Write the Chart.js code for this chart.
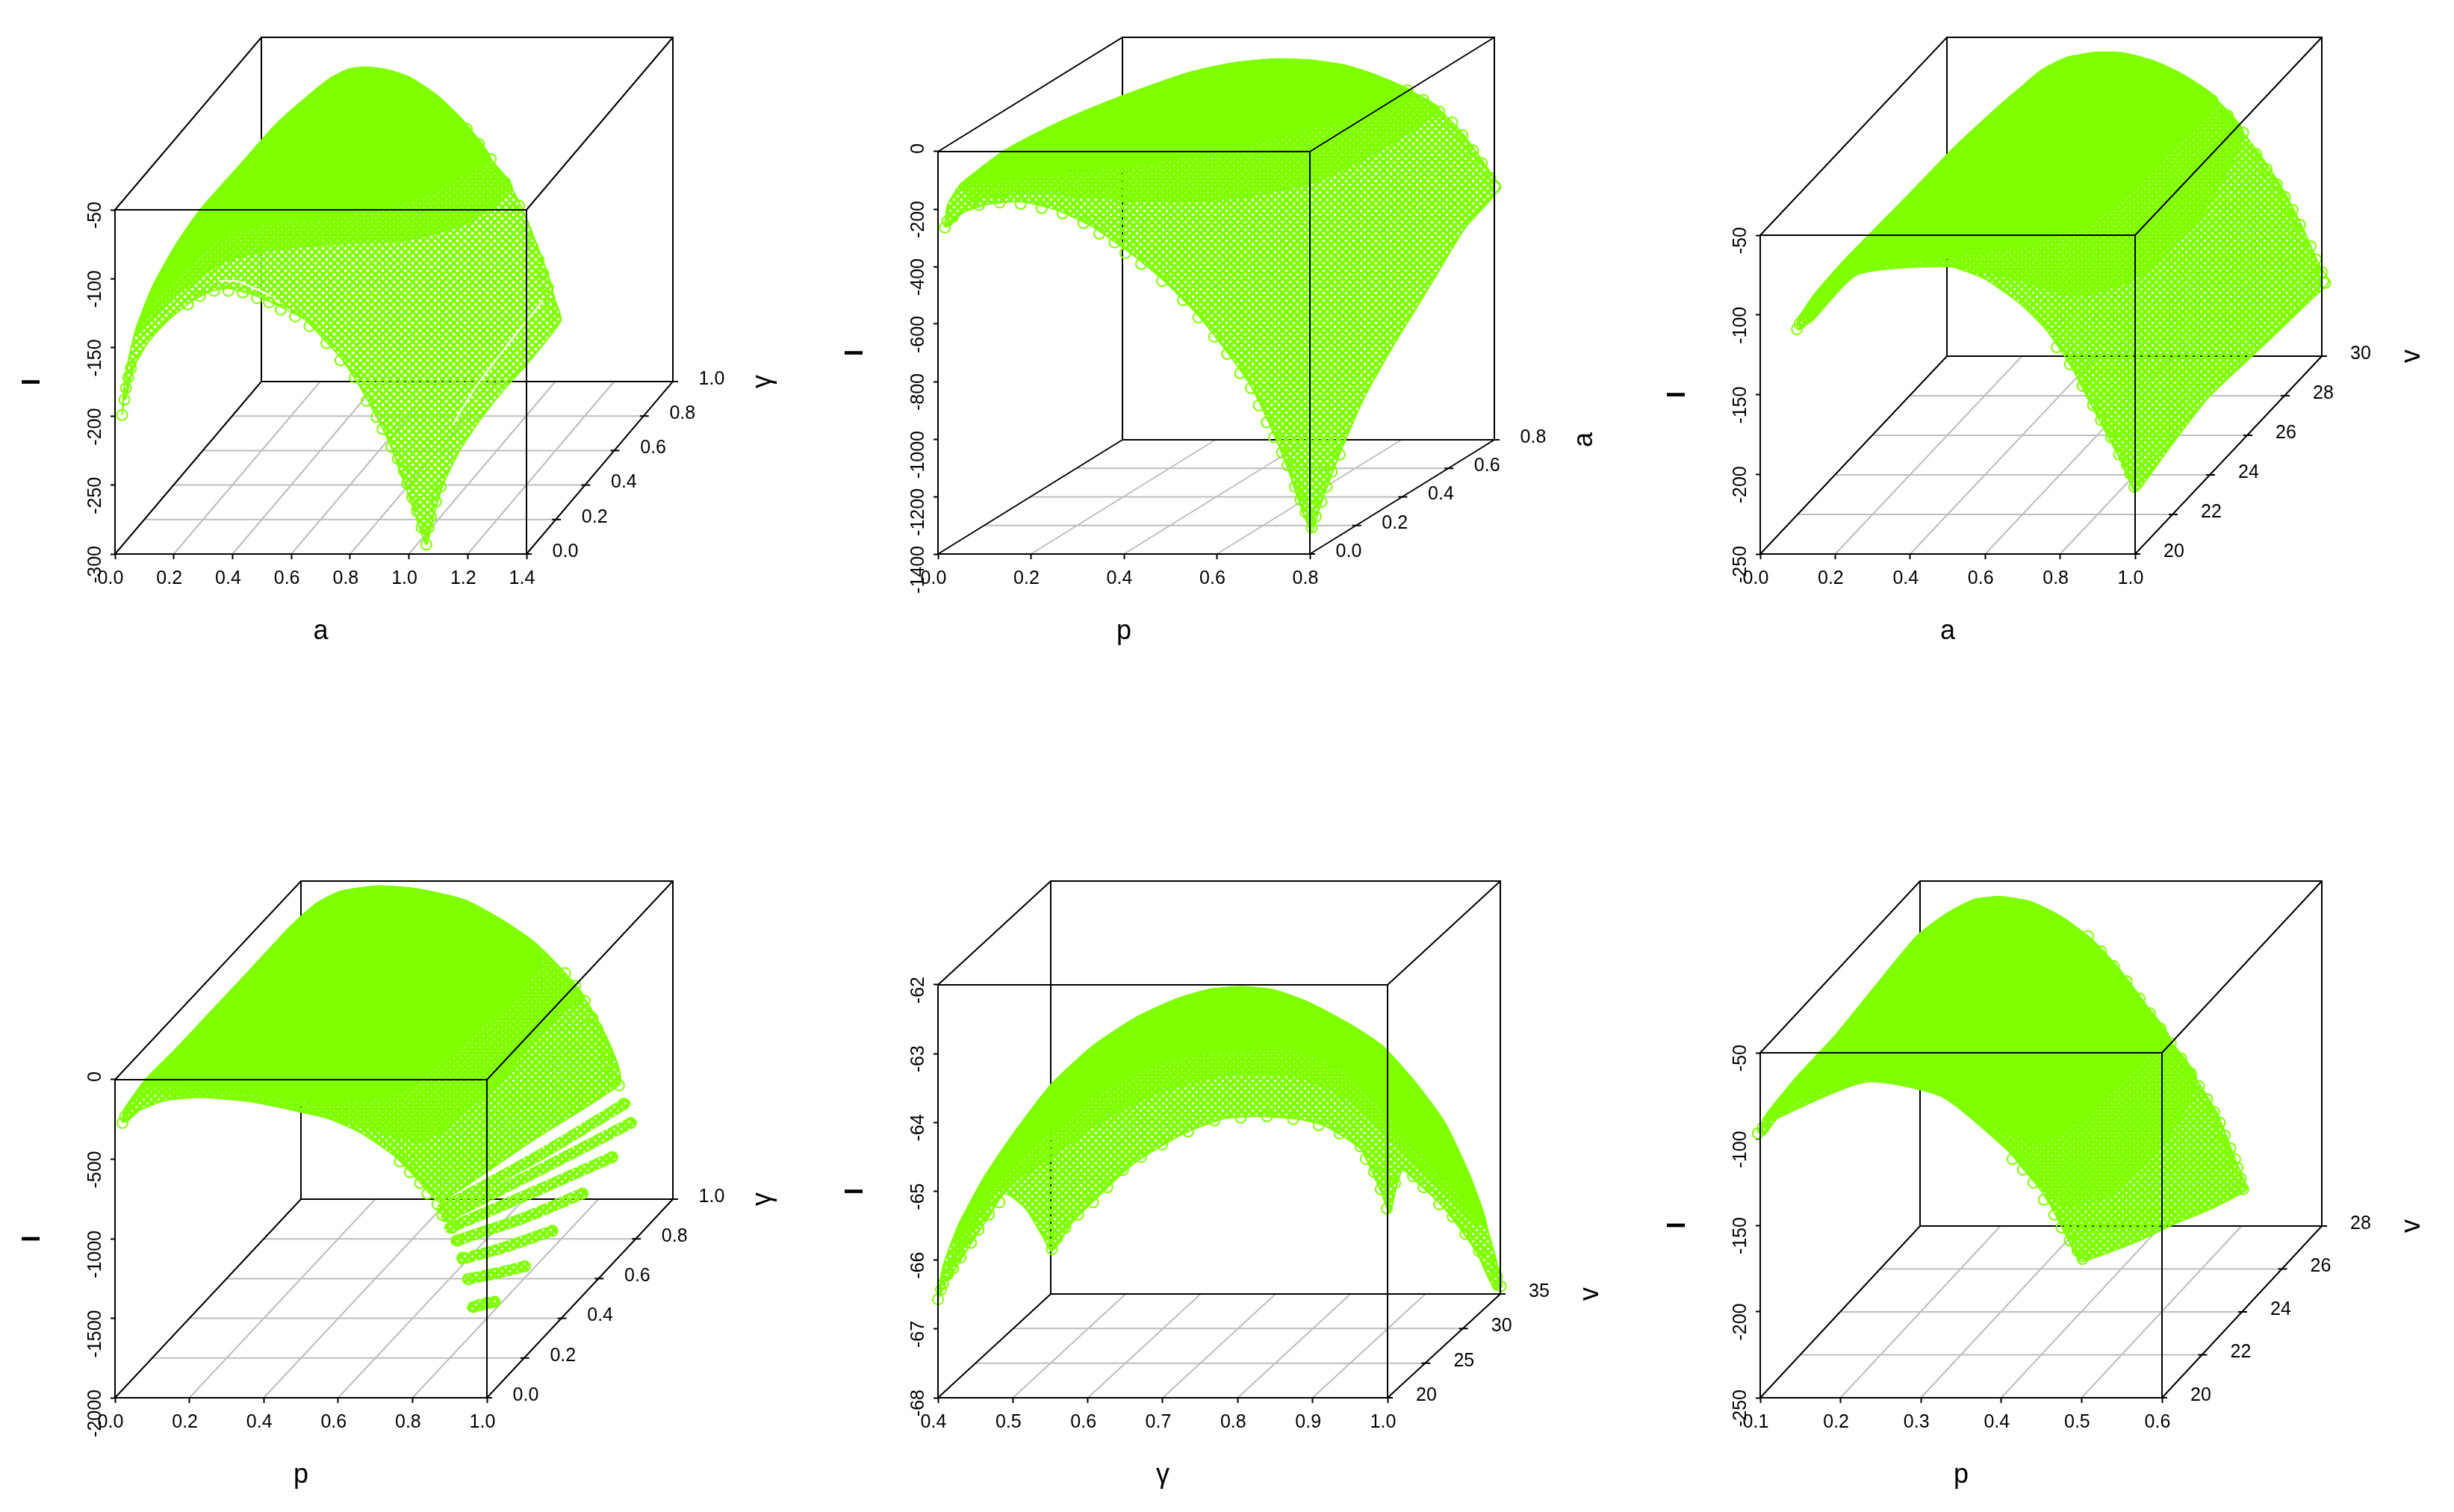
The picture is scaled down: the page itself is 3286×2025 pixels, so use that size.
<!DOCTYPE html>
<html>
<head>
<meta charset="utf-8">
<title>Profile log-likelihood surfaces</title>
<script src="https://cdn.jsdelivr.net/npm/chart.js@4/dist/chart.umd.js"></script>
<style>
html, body { margin: 0; padding: 0; background: #fff; }
#page { position: relative; width: 3286px; height: 2025px; overflow: hidden; }
canvas { position: absolute; }
</style>
</head>
<body>
<div id="page"></div>
<script>
// axis ticks, panel by panel
const p1XTicks = [0, 0.2, 0.4, 0.6, 0.8, 1.0, 1.2, 1.4];
const p1ZTicks = [-300, -250, -200, -150, -100, -50];
const p1DTicks = [0, 0.2, 0.4, 0.6, 0.8, 1.0];
const p2XTicks = [0, 0.2, 0.4, 0.6, 0.8];
const p2ZTicks = [-1400, -1200, -1000, -800, -600, -400, -200, 0];
const p2DTicks = [0, 0.2, 0.4, 0.6, 0.8];
const p3XTicks = [0, 0.2, 0.4, 0.6, 0.8, 1.0];
const p3ZTicks = [-250, -200, -150, -100, -50];
const p3DTicks = [20, 22, 24, 26, 28, 30];
const p4XTicks = [0, 0.2, 0.4, 0.6, 0.8, 1.0];
const p4ZTicks = [-2000, -1500, -1000, -500, 0];
const p4DTicks = [0, 0.2, 0.4, 0.6, 0.8, 1.0];
const p5XTicks = [0.4, 0.5, 0.6, 0.7, 0.8, 0.9, 1.0];
const p5ZTicks = [-68, -67, -66, -65, -64, -63, -62];
const p5DTicks = [20, 25, 30, 35];
const p6XTicks = [0.1, 0.2, 0.3, 0.4, 0.5, 0.6];
const p6ZTicks = [-250, -200, -150, -100, -50];
const p6DTicks = [20, 22, 24, 26, 28];

// surfaces, [projected x, l]
const p1Outline = [[.024,-199],[.034,-171.7],[.07,-137.5],[.127,-106.3],[.208,-75.2],[.289,-50.3],[.418,-19.2],[.548,12],[.646,30.6],[.727,44.6],[.792,51.8],[.848,53.4],[.921,51.8],[1.002,46.2],[1.1,32.2],[1.189,13.5],[1.278,-13],[1.351,-34.7],[1.4,-56.5],[1.44,-78.3],[1.473,-97],[1.497,-115.7],[1.518,-129.7],[1.489,-139],[1.4,-162.4],[1.327,-179.5],[1.246,-201.3],[1.173,-224.6],[1.116,-249.5],[1.083,-272.9],[1.059,-293.1],[1.019,-269.8],[.986,-249.5],[.938,-221.5],[.889,-199.7],[.832,-178],[.775,-159.3],[.71,-143.7],[.646,-129.7],[.564,-120.4],[.483,-112.6],[.386,-107],[.321,-109.5],[.256,-117.2],[.175,-131.3],[.11,-146.9],[.062,-165.5],[.037,-187.3]];
const p1SolidEdge = [[1.197,-22.3],[1.067,-37.9],[.905,-50.3],[.71,-55],[.516,-59.7],[.37,-69],[.256,-87.7],[.159,-109.5],[.065,-140.6]];
const p1DenseEdge = [[1.197,-59.7],[.986,-72.1],[.71,-75.2],[.516,-79.9],[.37,-87.7],[.224,-109.5],[.078,-140.6]];
const p1Rings = [[.024,-199],[.032,-187.9],[.037,-179.5],[.045,-171.7],[.054,-164.9],[.248,-118.8],[.289,-112.6],[.337,-108.8],[.386,-108.8],[.435,-110.1],[.483,-114.1],[.524,-117.2],[.564,-122.5],[.613,-127.5],[.662,-134.4],[.719,-146.8],[.767,-159.3],[.816,-171.7],[.856,-188.8],[.889,-200.4],[.91,-209.1],[.941,-222.2],[.962,-230.9],[.983,-239.6],[.994,-248.9],[1.011,-258.9],[1.027,-268.8],[1.043,-280.7],[1.059,-293.1],[1.067,-280.7],[1.075,-272.9],[1.092,-262],[1.108,-251.1],[1.497,-129.7],[1.481,-118.2],[1.473,-106.3],[1.457,-96.4],[1.44,-86.1],[1.421,-76.8],[1.4,-65.9],[1.375,-47.2],[1.327,-30.1],[1.278,-13],[1.238,-2.1],[1.197,8.8]];
const p1GapA = [[1.457,-115.7],[1.351,-143.7],[1.229,-177.9],[1.148,-206]];
const p1GapB = [[.354,-101.7],[.418,-101.7],[.516,-111],[.597,-123.5]];

const p2Outline = [[.015,-264],[.02,-189],[.048,-115],[.088,-63],[.144,4],[.223,72],[.313,139],[.425,210],[.538,273],[.628,306],[.718,321],[.797,318],[.875,300],[.943,265],[1.022,206],[1.078,146],[1.128,64],[1.168,-25],[1.196,-92],[1.209,-122],[1.185,-174],[1.134,-264],[1.078,-413],[1.022,-562],[.977,-681],[.92,-845],[.875,-1009],[.842,-1144],[.819,-1248],[.804,-1322],[.78,-1233],[.752,-1099],[.718,-965],[.673,-815],[.628,-711],[.56,-570],[.482,-443],[.414,-353],[.335,-264],[.257,-204],[.178,-174],[.11,-182],[.054,-212],[.026,-256]];
const p2SolidEdge = [[.977,154],[.797,79],[.65,19],[.482,-33],[.335,-63],[.2,-85],[.088,-107]];
const p2DenseEdge = [[.965,19],[.819,-100],[.65,-160],[.482,-174],[.335,-160],[.2,-145],[.065,-167]];
const p2Rings = [[.015,-264],[.02,-242],[.032,-227],[.088,-186],[.133,-177],[.178,-182],[.223,-197],[.268,-215],[.313,-249],[.347,-286],[.38,-316],[.403,-353],[.437,-391],[.482,-450],[.527,-517],[.56,-577],[.594,-644],[.622,-704],[.65,-771],[.673,-823],[.69,-883],[.707,-942],[.723,-994],[.74,-1047],[.752,-1091],[.768,-1166],[.78,-1211],[.791,-1255],[.804,-1308],[.813,-1270],[.825,-1218],[.836,-1166],[.847,-1114],[.864,-1054],[1.199,-122],[1.188,-92],[1.17,-40],[1.151,4],[1.128,57],[1.106,101],[1.078,139],[1.044,180],[1.01,213]];

const p3Outline = [[.098,-109],[.101,-102.8],[.142,-88],[.225,-65.6],[.308,-45.7],[.405,-22.5],[.515,4.4],[.626,28.6],[.695,42.6],[.75,53.4],[.819,61.4],[.902,64.7],[.971,64.1],[1.054,58.8],[1.137,49.3],[1.219,34.5],[1.288,14.3],[1.344,-3.2],[1.399,-23.3],[1.454,-48.9],[1.489,-67.8],[1.516,-79.3],[1.468,-90.6],[1.385,-109.5],[1.288,-131],[1.192,-152.6],[1.095,-182.2],[1.012,-209.1],[.998,-210.4],[.971,-195.6],[.929,-176.8],[.874,-152.6],[.833,-133.7],[.764,-109.5],[.695,-93.3],[.598,-77.2],[.501,-69.1],[.391,-65.9],[.322,-67.8],[.26,-73.2],[.197,-85.3],[.142,-102.8],[.101,-109.5]];
const p3SolidEdge = [[1.123,9],[.998,-20.7],[.86,-44.9],[.653,-58.3],[.501,-63.7],[.26,-73.2],[.142,-102.8]];
const p3DenseEdge = [[1.178,-36.8],[.998,-77.2],[.833,-88],[.681,-77.2],[.501,-69.6],[.26,-74.5],[.142,-102.8]];
const p3Rings = [[.098,-109],[.105,-105.5],[.115,-102.8],[.791,-120.3],[.826,-131],[.86,-144.5],[.888,-156.6],[.909,-166],[.936,-176.8],[.957,-187.6],[.978,-194.3],[.987,-199.7],[.998,-207.8],[1.507,-79.9],[1.498,-73.2],[1.482,-65.1],[1.468,-57],[1.44,-43.5],[1.42,-34.1],[1.399,-26],[1.378,-18],[1.351,-8.5],[1.323,.9],[1.288,14.3],[1.247,25.1],[1.206,34.5]];

const p4Outline = [[.02,-272],[.024,-191],[.081,-3],[.161,186],[.255,420],[.363,689],[.47,958],[.538,1101],[.605,1182],[.712,1217],[.82,1195],[.941,1128],[1.048,993],[1.142,832],[1.21,670],[1.263,509],[1.304,347],[1.337,186],[1.357,51],[1.357,-30],[1.116,-393],[.874,-770],[.847,-716],[.806,-608],[.753,-482],[.659,-331],[.551,-223],[.444,-159],[.336,-121],[.228,-110],[.134,-132],[.067,-191],[.034,-258]];
const p4SolidEdge = [[1.142,697],[1.034,428],[.9,159],[.766,-83],[.551,-151],[.363,-83],[.081,-30]];
const p4DenseEdge = [[1.196,428],[1.035,-3],[.833,-380],[.632,-272],[.363,-137],[.081,-83]];
const p4Rings = [[.02,-272],[.027,-232],[.038,-205],[.766,-514],[.793,-581],[.82,-649],[.84,-716],[.867,-783],[.88,-851],[.907,-931],[.921,-1012],[.934,-1120],[.95,-1254],[.965,-1429],[1.387,-272],[1.368,-151],[1.355,-35],[1.337,65],[1.324,159],[1.31,240],[1.297,320],[1.284,388],[1.263,495],[1.237,590],[1.21,670],[1.337,-487],[1.257,-716],[1.176,-950],[1.102,-1174],[1.021,-1397],[1.001,-1403],[.981,-1416]];
const p4RowA = [[.961,-1429],[1.021,-1397]];
const p4RowB = [[.948,-1254],[1.021,-1219],[1.102,-1174]];
const p4RowC = [[.934,-1128],[1.048,-1053],[1.176,-950]];
const p4RowD = [[.917,-1012],[1.089,-878],[1.257,-716]];
const p4RowE = [[.9,-931],[1.116,-716],[1.337,-487]];
const p4RowF = [[.891,-864],[1.142,-568],[1.387,-272]];
const p4RowG = [[.88,-810],[1.142,-474],[1.371,-151]];

const p5Outline = [[.4,-66.59],[.406,-66.12],[.427,-65.5],[.461,-64.81],[.503,-64.13],[.552,-63.44],[.608,-62.88],[.664,-62.48],[.72,-62.2],[.762,-62.07],[.804,-62.03],[.846,-62.07],[.895,-62.26],[.949,-62.57],[.992,-62.88],[1.034,-63.38],[1.076,-64],[1.111,-64.81],[1.132,-65.5],[1.153,-66.37],[1.143,-66.43],[1.118,-65.87],[1.076,-65.25],[1.034,-64.81],[1.02,-64.69],[1.013,-64.88],[1.003,-65.31],[.991,-65],[.978,-64.69],[.964,-64.38],[.915,-64.04],[.874,-63.94],[.825,-63.91],[.783,-63.94],[.734,-64.13],[.692,-64.38],[.657,-64.63],[.615,-65.06],[.58,-65.44],[.552,-65.87],[.538,-65.62],[.517,-65.25],[.489,-65.03],[.468,-65.37],[.441,-65.81],[.413,-66.31]];
const p5SolidEdge = [[1.118,-65.37],[1.083,-64.88],[1.034,-64.38],[.999,-63.88],[.943,-63.26],[.874,-62.95],[.769,-62.98],[.678,-63.19],[.615,-63.57],[.552,-64.13],[.489,-64.75],[.42,-65.75]];
const p5DenseEdge = [[1.104,-65.37],[1.048,-64.69],[.999,-64.19],[.943,-63.63],[.874,-63.32],[.79,-63.29],[.692,-63.57],[.615,-64],[.552,-64.5],[.475,-65.06],[.416,-66.12]];
const p5Rings = [[.4,-66.57],[.404,-66.43],[.407,-66.34],[.413,-66.21],[.42,-66.12],[.43,-65.96],[.444,-65.75],[.454,-65.56],[.468,-65.34],[.482,-65.16],[.552,-65.84],[.559,-65.68],[.57,-65.53],[.587,-65.34],[.607,-65.16],[.626,-64.94],[.647,-64.69],[.671,-64.5],[.699,-64.32],[.734,-64.13],[.769,-63.97],[.804,-63.93],[.839,-63.91],[.874,-63.95],[.908,-64.04],[.936,-64.16],[.964,-64.35],[.971,-64.53],[.982,-64.72],[.991,-64.97],[.999,-65.25],[1.01,-64.88],[1.151,-66.38],[1.146,-66.24],[1.136,-66.06],[1.122,-65.87],[1.104,-65.62],[1.087,-65.37],[1.069,-65.19],[1.048,-64.94],[1.034,-64.78]];

const p6Outline = [[.097,-96.7],[.108,-85.5],[.147,-63.2],[.192,-40.8],[.244,-11],[.295,17.6],[.334,31.2],[.366,38.7],[.398,40.4],[.437,37.4],[.475,28.7],[.514,15.1],[.546,-1.1],[.578,-20.9],[.611,-43.3],[.643,-65.6],[.669,-85.5],[.688,-107.9],[.701,-122.8],[.706,-129],[.662,-140.2],[.617,-148.9],[.572,-158.8],[.508,-170],[.498,-170.7],[.485,-160],[.469,-145.1],[.45,-130.2],[.424,-115.3],[.392,-97.9],[.353,-81.8],[.314,-71.9],[.269,-66.9],[.231,-65.6],[.192,-68.1],[.153,-75.6],[.121,-88],[.105,-97.9]];
const p6SolidEdge = [[.572,-55.7],[.521,-80.6],[.456,-100.4],[.392,-93],[.314,-70.6],[.231,-65.6],[.153,-75.3],[.108,-90.5]];
const p6DenseEdge = [[.598,-105.4],[.533,-132.7],[.475,-137.7],[.417,-110.4],[.327,-75.6],[.231,-66.9],[.108,-90.5]];
const p6Rings = [[.097,-96.7],[.103,-93.5],[.11,-89.2],[.501,-169.5],[.495,-165],[.485,-158.8],[.475,-151.3],[.466,-143.9],[.453,-135.2],[.44,-125.3],[.427,-117.8],[.414,-111.6],[.701,-129],[.698,-122.8],[.694,-116.6],[.691,-111.6],[.685,-105.4],[.678,-97.9],[.672,-90.5],[.665,-84.3],[.656,-76.8],[.646,-69.4],[.636,-61.9],[.624,-53.2],[.611,-44.5],[.598,-35.8],[.585,-27.1],[.572,-18.5],[.556,-8.5],[.54,.2],[.524,8.9],[.508,17.6]];

const GREEN = "#7FFF00";
const GRID = "#BEBEBE";
const FONT = '"Liberation Sans", Arial, sans-serif';
const X_AXIS_ROOM = 60;
const Y_AXIS_ROOM = 60;

// little tile of ring gaps, used on the open part of each surface
function makePattern(hole) {
    const c = document.createElement("canvas");
    c.width = 10;
    c.height = 10;
    const g = c.getContext("2d");
    g.fillStyle = GREEN;
    g.fillRect(0, 0, 10, 10);
    g.globalCompositeOperation = "destination-out";
    [[2.5, 2.5], [7.5, 7.5]].forEach(([x, y]) => {
        g.beginPath();
        g.arc(x, y, hole, 0, Math.PI * 2);
        g.fill();
    });
    return g.createPattern(c, "repeat");
}
const fineTile = makePattern(0.8);

const panels = [
    { cell: [0, 0, 1100, 1000], left: 154, right: 705, backRight: 901, top: 50, frontTop: 281, bottom: 742,
      xTicks: p1XTicks, zTicks: p1ZTicks, dTicks: p1DTicks, xDigits: 1, dDigits: 1, xTitle: "a", dTitle: "γ",
      outline: p1Outline, solidTop: p1Outline.slice(2, 17), solidEdge: p1SolidEdge, denseTop: p1Outline.slice(2, 18), denseEdge: p1DenseEdge,
      rings: p1Rings, rows: [], gaps: [p1GapA, p1GapB], hole: 2 },
    { cell: [1100, 0, 1100, 1000], left: 1256, right: 1754, backRight: 2001, top: 50, frontTop: 203, bottom: 742,
      xTicks: p2XTicks, zTicks: p2ZTicks, dTicks: p2DTicks, xDigits: 1, dDigits: 1, xTitle: "p", dTitle: "a",
      outline: p2Outline, solidTop: p2Outline.slice(2, 15), solidEdge: p2SolidEdge, denseTop: p2Outline.slice(2, 16), denseEdge: p2DenseEdge,
      rings: p2Rings, rows: [], gaps: [], hole: 1.7 },
    { cell: [2200, 0, 1086, 1000], left: 2357, right: 2859, backRight: 3109, top: 50, frontTop: 315, bottom: 742,
      xTicks: p3XTicks, zTicks: p3ZTicks, dTicks: p3DTicks, xDigits: 1, dDigits: 0, xTitle: "a", dTitle: "v",
      outline: p3Outline, solidTop: p3Outline.slice(1, 16), solidEdge: p3SolidEdge, denseTop: p3Outline.slice(1, 17), denseEdge: p3DenseEdge,
      rings: p3Rings, rows: [], gaps: [], hole: 1.4 },
    { cell: [0, 1000, 1100, 1025], left: 154, right: 652, backRight: 901, top: 1180, frontTop: 1446, bottom: 1872,
      xTicks: p4XTicks, zTicks: p4ZTicks, dTicks: p4DTicks, xDigits: 1, dDigits: 1, xTitle: "p", dTitle: "γ",
      outline: p4Outline, solidTop: p4Outline.slice(1, 14), solidEdge: p4SolidEdge, denseTop: p4Outline.slice(1, 16), denseEdge: p4DenseEdge,
      rings: p4Rings, rows: [p4RowA, p4RowB, p4RowC, p4RowD, p4RowE, p4RowF, p4RowG], gaps: [], hole: 1.4 },
    { cell: [1100, 1000, 1100, 1025], left: 1256, right: 1858, backRight: 2009, top: 1180, frontTop: 1319, bottom: 1872,
      xTicks: p5XTicks, zTicks: p5ZTicks, dTicks: p5DTicks, xDigits: 1, dDigits: 0, xTitle: "γ", dTitle: "v",
      outline: p5Outline, solidTop: p5Outline.slice(2, 19), solidEdge: p5SolidEdge, denseTop: p5Outline.slice(2, 19), denseEdge: p5DenseEdge,
      rings: p5Rings, rows: [], gaps: [], hole: 1.6 },
    { cell: [2200, 1000, 1086, 1025], left: 2357, right: 2895, backRight: 3109, top: 1180, frontTop: 1410, bottom: 1872,
      xTicks: p6XTicks, zTicks: p6ZTicks, dTicks: p6DTicks, xDigits: 1, dDigits: 0, xTitle: "p", dTitle: "v",
      outline: p6Outline, solidTop: p6Outline.slice(1, 15), solidEdge: p6SolidEdge, denseTop: p6Outline.slice(1, 16), denseEdge: p6DenseEdge,
      rings: p6Rings, rows: [], gaps: [], hole: 1.3 }
];

function toPoints(list) {
    return list.map(([x, y]) => ({ x, y }));
}

// scatterplot3d style: depth only shears x and z
function makeProjector(p) {
    const xMin = p.xTicks[0], xMax = p.xTicks[p.xTicks.length - 1];
    const zMin = p.zTicks[0], zMax = p.zTicks[p.zTicks.length - 1];
    const dMin = p.dTicks[0], dMax = p.dTicks[p.dTicks.length - 1];
    const xShift = (p.backRight - p.right) / (p.right - p.left) * (xMax - xMin);
    const zShift = (p.frontTop - p.top) / (p.bottom - p.frontTop) * (zMax - zMin);
    return {
        xMin, xMax, zMin, zMax, dMin, dMax, xShift, zShift,
        at(x, d, z) {
            const t = (d - dMin) / (dMax - dMin);
            return { x: x + t * xShift, y: z + t * zShift };
        }
    };
}

const BREAK = { x: NaN, y: NaN };

function lineSet(points, color, width, order) {
    return { data: points, showLine: true, borderColor: color, borderWidth: width, pointRadius: 0, fill: false, order, clip: false };
}

function areaSet(list, fillWith, order) {
    return { data: toPoints(list), showLine: true, borderColor: GREEN, borderWidth: 2, backgroundColor: fillWith, fill: "shape", tension: 0.2, pointRadius: 0, order, clip: false };
}

function buildDatasets(p, pr) {
    const { xMin, xMax, zMin, zMax, dMin, dMax } = pr;
    const grid = [];
    p.xTicks.slice(1, -1).forEach(x => grid.push(pr.at(x, dMin, zMin), pr.at(x, dMax, zMin), BREAK));
    p.dTicks.slice(1, -1).forEach(d => grid.push(pr.at(xMin, d, zMin), pr.at(xMax, d, zMin), BREAK));

    const back = [pr.at(xMin, dMax, zMin), pr.at(xMin, dMax, zMax), BREAK,
        pr.at(xMin, dMax, zMin), pr.at(xMax, dMax, zMin)];
    const front = [pr.at(xMin, dMin, zMin), pr.at(xMax, dMin, zMin), pr.at(xMax, dMin, zMax), pr.at(xMin, dMin, zMax), pr.at(xMin, dMin, zMin), BREAK,
        pr.at(xMin, dMin, zMin), pr.at(xMin, dMax, zMin), BREAK,
        pr.at(xMax, dMin, zMin), pr.at(xMax, dMax, zMin), pr.at(xMax, dMax, zMax), pr.at(xMin, dMax, zMax), pr.at(xMin, dMin, zMax), BREAK,
        pr.at(xMax, dMin, zMax), pr.at(xMax, dMax, zMax)];

    const tile = makePattern(p.hole);
    const sets = [
        lineSet(grid, GRID, 2, 9),
        lineSet(back, "#000", 2, 8),
        areaSet(p.outline, tile, 7),
        areaSet(p.denseTop.concat(p.denseEdge), fineTile, 6),
        areaSet(p.solidTop.concat(p.solidEdge), GREEN, 5)
    ];
    p.rows.forEach(r => {
        const s = lineSet(toPoints(r), tile, 15, 4);
        s.borderCapStyle = "round";
        s.tension = 0.3;
        sets.push(s);
    });
    p.gaps.forEach(g => sets.push(lineSet(toPoints(g), "#fff", 2, 3)));
    sets.push({ data: toPoints(p.rings), showLine: false, pointStyle: "circle", pointRadius: 7, pointBorderWidth: 2, pointBorderColor: GREEN, pointBackgroundColor: "rgba(0,0,0,0)", order: 2, clip: false });
    sets.push(lineSet(front, "#000", 2, 1));
    return sets;
}

// depth axis and the three axis titles are not chart scales, so draw them here
const depthAxisPlugin = {
    id: "depthAxis",
    afterDraw(chart, args, opts) {
        const p = opts.panel, pr = opts.projector;
        const sx = chart.scales.x, sy = chart.scales.y;
        const ctx = chart.ctx;
        const px = q => ({ x: sx.getPixelForValue(q.x), y: sy.getPixelForValue(q.y) });
        ctx.save();
        ctx.fillStyle = "#000";
        ctx.strokeStyle = "#000";
        ctx.lineWidth = 2;
        ctx.font = "25px " + FONT;
        ctx.textAlign = "center";
        ctx.textBaseline = "middle";
        p.dTicks.forEach(d => {
            const q = px(pr.at(pr.xMax, d, pr.zMin));
            ctx.beginPath();
            ctx.moveTo(q.x - 5, q.y);
            ctx.lineTo(q.x + 7, q.y);
            ctx.stroke();
            ctx.fillText(d.toFixed(p.dDigits), q.x + 52, q.y - 3);
        });

        const fl = px(pr.at(pr.xMin, pr.dMin, pr.zMin));
        const fr = px(pr.at(pr.xMax, pr.dMin, pr.zMin));
        const ft = px(pr.at(pr.xMin, pr.dMin, pr.zMax));
        const br = px(pr.at(pr.xMax, pr.dMax, pr.zMin));

        ctx.font = "36px " + FONT;
        ctx.fillText(p.xTitle, (fl.x + fr.x) / 2, fl.y + 104);

        ctx.save();
        ctx.translate(fl.x - 110, (fl.y + ft.y) / 2);
        ctx.rotate(-Math.PI / 2);
        ctx.font = "bold 34px " + FONT;
        ctx.fillText("l", 0, 0);
        ctx.restore();

        ctx.save();
        ctx.translate(br.x + 121, br.y);
        ctx.rotate(-Math.PI / 2);
        ctx.font = "36px " + FONT;
        ctx.fillText(p.dTitle, 0, 0);
        ctx.restore();
        ctx.restore();
    }
};

function drawPanel(p) {
    const [cx, cy, cw, ch] = p.cell;
    const canvas = document.createElement("canvas");
    canvas.width = cw;
    canvas.height = ch;
    canvas.style.left = cx + "px";
    canvas.style.top = cy + "px";
    document.getElementById("page").appendChild(canvas);

    const pr = makeProjector(p);
    const tickSetup = list => scale => { scale.ticks = list.map(value => ({ value })); };

    new Chart(canvas.getContext("2d"), {
        type: "scatter",
        data: { datasets: buildDatasets(p, pr) },
        plugins: [depthAxisPlugin],
        options: {
            responsive: false,
            animation: false,
            events: [],
            layout: { padding: {
                left: p.left - cx - Y_AXIS_ROOM,
                top: p.top - cy,
                right: cx + cw - p.backRight,
                bottom: cy + ch - p.bottom - X_AXIS_ROOM
            } },
            plugins: {
                legend: { display: false },
                tooltip: { enabled: false },
                depthAxis: { panel: p, projector: pr }
            },
            scales: {
                x: {
                    type: "linear",
                    min: pr.xMin,
                    max: pr.xMax + pr.xShift,
                    afterBuildTicks: tickSetup(p.xTicks),
                    afterFit: s => { s.height = X_AXIS_ROOM; },
                    border: { display: false },
                    grid: { drawOnChartArea: false, drawTicks: true, tickLength: 7, tickColor: "#000", tickWidth: 2 },
                    ticks: { autoSkip: false, maxRotation: 0, minRotation: 0, padding: 11, labelOffset: -6, color: "#000", font: { family: FONT, size: 25 },
                        callback: v => v.toFixed(p.xDigits) }
                },
                y: {
                    type: "linear",
                    min: pr.zMin,
                    max: pr.zMax + pr.zShift,
                    afterBuildTicks: tickSetup(p.zTicks),
                    afterFit: s => { s.width = Y_AXIS_ROOM; },
                    border: { display: false },
                    grid: { drawOnChartArea: false, drawTicks: true, tickLength: 6, tickColor: "#000", tickWidth: 2 },
                    ticks: { autoSkip: false, minRotation: 90, maxRotation: 90, padding: 20, labelOffset: -11, color: "#000", font: { family: FONT, size: 25 },
                        callback: v => String(v) }
                }
            }
        }
    });
}

window.onload = () => {
    panels.forEach(drawPanel);
};
</script>
</body>
</html>
